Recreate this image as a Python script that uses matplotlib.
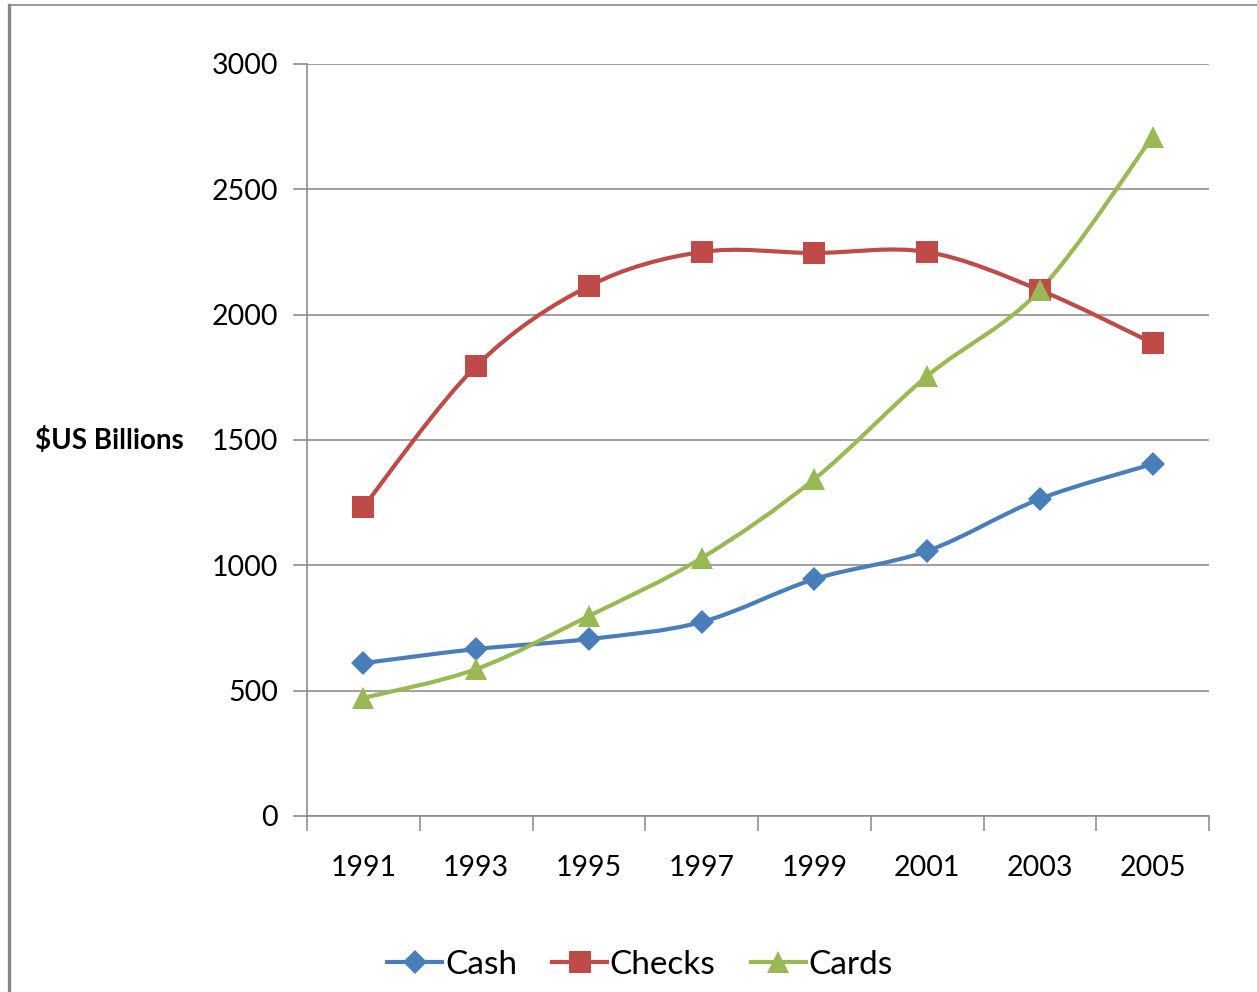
import matplotlib
matplotlib.use('Agg')
import matplotlib.pyplot as plt
from matplotlib.path import Path
from matplotlib.patches import PathPatch
from matplotlib.lines import Line2D
import numpy as np

plt.rcParams['font.family'] = ['Lato', 'DejaVu Sans']

years = ['1991', '1993', '1995', '1997', '1999', '2001', '2003', '2005']
cash = [610, 666, 706, 774, 945, 1057, 1265, 1404]
checks = [1233, 1795, 2114, 2250, 2246, 2250, 2098, 1887]
cards = [471, 586, 798, 1029, 1344, 1755, 2098, 2710]

series = [('Cash', cash, '#4A7EBB', 'D', 12.5),
          ('Checks', checks, '#BE4B48', 's', 16),
          ('Cards', cards, '#98B954', '^', 16.5)]


def smooth_path(xs, ys):
    # excel-like smoothed line: bezier segments through the points
    pts = np.column_stack([xs, ys]).astype(float)
    verts = [pts[0]]
    codes = [Path.MOVETO]
    n = len(pts)
    for i in range(n - 1):
        p0 = pts[i - 1] if i > 0 else pts[i]
        p1, p2 = pts[i], pts[i + 1]
        p3 = pts[i + 2] if i + 2 < n else pts[i + 1]
        c1 = p1 + (p2 - p0) / 6.0
        c2 = p2 - (p3 - p1) / 6.0
        verts += [c1, c2, p2]
        codes += [Path.CURVE4] * 3
    return Path(verts, codes)


fig = plt.figure(figsize=(12.57, 9.92), dpi=100)
ax = fig.add_axes([307 / 1257, 1 - 816 / 992, (1209 - 307) / 1257, (816 - 64) / 992])

x = np.arange(len(years))
for name, vals, col, mk, ms in series:
    ax.add_patch(PathPatch(smooth_path(x, vals), facecolor='none', edgecolor=col,
                           lw=3.0, capstyle='round', zorder=3))
    ax.plot(x, vals, linestyle='none', marker=mk, markersize=ms, color=col,
            markeredgewidth=0, zorder=4)

ax.set_xlim(-0.5, len(years) - 0.5)
ax.set_ylim(0, 3000)
ax.set_yticks(range(0, 3001, 500))
ax.yaxis.grid(True, color='#868686', lw=1.1)
ax.set_axisbelow(True)

ax.set_xticks(np.arange(-0.5, len(years), 1))
ax.set_xticklabels([])
ax.set_xticks(x, minor=True)
ax.set_xticklabels(years, minor=True)
ax.tick_params(axis='x', which='major', length=11, width=1.1, color='#868686')
ax.tick_params(axis='x', which='minor', length=0, pad=28, labelsize=20.5)
ax.tick_params(axis='y', length=10, width=1.1, color='#868686', labelsize=20.5, pad=11)

for s in ['top', 'right']:
    ax.spines[s].set_visible(False)
for s in ['left', 'bottom']:
    ax.spines[s].set_color('#868686')
    ax.spines[s].set_linewidth(1.1)

fig.text(35 / 1257, 1 - 441 / 992, '$US Billions', fontsize=20, fontweight='bold',
         ha='left', va='center')

handles = [Line2D([], [], color=col, lw=3.0, marker=mk, markersize=ms * 0.95,
                  markeredgewidth=0) for name, vals, col, mk, ms in series]
fig.legend(handles, [s[0] for s in series], loc='center', ncol=3,
           bbox_to_anchor=(640 / 1257, 1 - 965 / 992), frameon=False,
           fontsize=24, handlelength=1.65, handletextpad=0.08, columnspacing=1.05)

# outer frame pieces (left + top)
fig.add_artist(Line2D([8.5 / 1257, 8.5 / 1257], [0, 1 - 5 / 992], color='#868686', lw=2.4))
fig.add_artist(Line2D([8.5 / 1257, 1], [1 - 5 / 992, 1 - 5 / 992], color='#868686', lw=1.2))

fig.savefig('out.png', dpi=100)
